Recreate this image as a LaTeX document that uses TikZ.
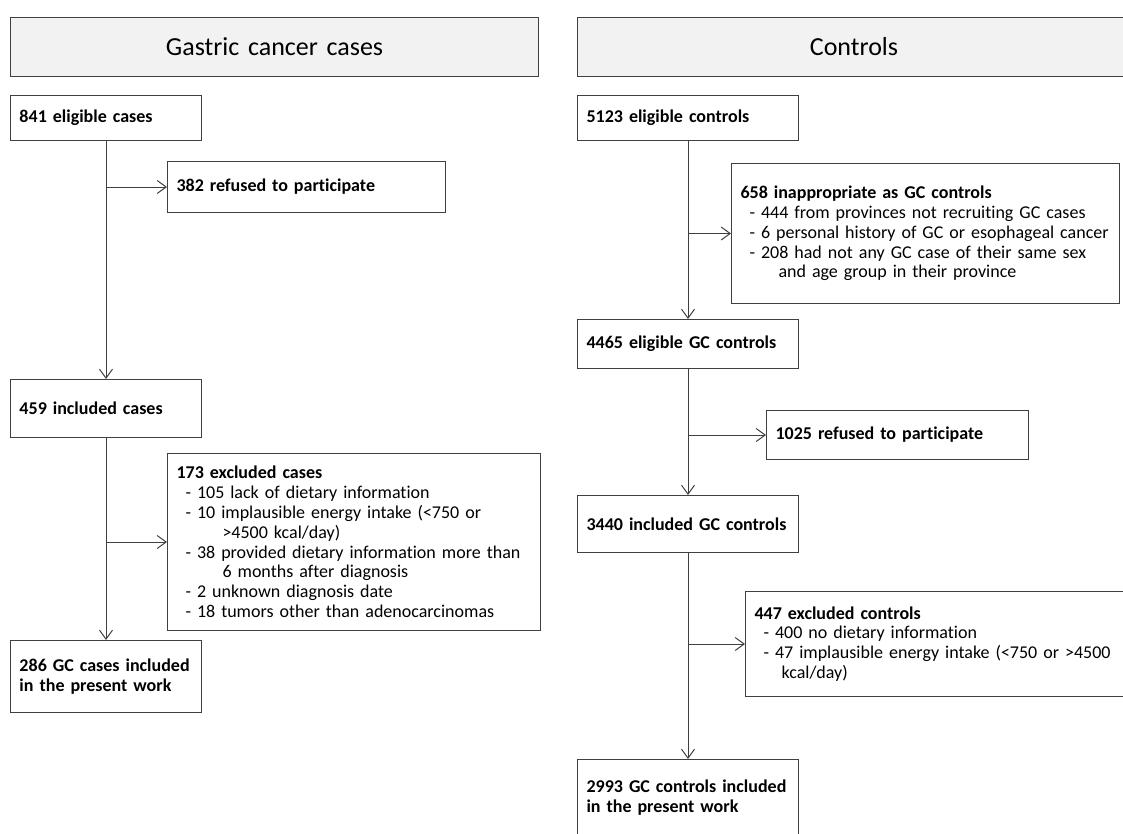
\documentclass[tikz,border=0pt]{standalone}
\usepackage{fontspec}
\setmainfont{Carlito}[Ligatures=NoCommon]
\usepackage{tikz}
\usetikzlibrary{arrows.meta}
\definecolor{edgegray}{HTML}{404040}
\definecolor{headfill}{HTML}{F2F2F2}

\begin{document}
\begin{tikzpicture}[x=1pt, y=-1pt,
    box/.style={draw=edgegray, line width=1pt, anchor=north west, align=left,
        inner xsep=9pt, inner ysep=0pt, font=\fontsize{18}{19.8}\selectfont},
    head/.style={box, fill=headfill, align=center, font=\fontsize{26}{30}\selectfont},
    arr/.style={draw=edgegray, line width=1pt, -{Straight Barb[length=9pt,width=13pt]}}]
    \useasboundingbox (0,0) rectangle (1123,833);
    \clip (0,0) rectangle (1123,833);

    \node[head, text width=510pt, minimum height=59pt] (headcases) at (10,17) {Gastric cancer cases};
    \node[head, text width=535pt, minimum height=59pt] (headctrl) at (577,17) {Controls};

    \node[box, text width=173pt, minimum height=45pt] (elig841) at (10,95) {\textbf{841 eligible cases}};
    \node[box, text width=260pt, minimum height=51pt] (refu382) at (167,161) {\textbf{382 refused to participate}};
    \node[box, text width=173pt, minimum height=58pt] (incl459) at (10,379) {\textbf{459 included cases}};
    \node[box, text width=355pt, minimum height=177pt] (excl173) at (167,453) {\textbf{173 excluded cases}\\
        \mbox{\hspace*{9pt}- 105 lack of dietary information}\\
        \mbox{\hspace*{9pt}- 10 implausible energy intake (<750 or}\\
        \mbox{\hspace*{46pt}>4500 kcal/day)}\\
        \mbox{\hspace*{9pt}- 38 provided dietary information more than}\\
        \mbox{\hspace*{46pt}6 months after diagnosis}\\
        \mbox{\hspace*{9pt}- 2 unknown diagnosis date}\\
        \mbox{\hspace*{9pt}- 18 tumors other than adenocarcinomas}};
    \node[box, text width=173pt, minimum height=72pt] (final286) at (10,640) {\mbox{\textbf{286 GC cases included}}\\\textbf{in the present work}};

    \node[box, text width=203pt, minimum height=45pt] (elig5123) at (577,95) {\textbf{5123 eligible controls}};
    \node[box, text width=370pt, minimum height=140pt] (inap658) at (731,163) {\textbf{658 inappropriate as GC controls}\\
        \mbox{\hspace*{9pt}- 444 from provinces not recruiting GC cases}\\
        \mbox{\hspace*{9pt}- 6 personal history of GC or esophageal cancer}\\
        \mbox{\hspace*{9pt}- 208 had not any GC case of their same sex}\\
        \mbox{\hspace*{38pt}and age group in their province}};
    \node[box, text width=203pt, minimum height=49pt] (elig4465) at (577,319) {\mbox{\textbf{4465 eligible GC controls}}};
    \node[box, text width=244pt, minimum height=49pt] (refu1025) at (766,410) {\textbf{1025 refused to participate}};
    \node[box, text width=203pt, minimum height=57pt] (incl3440) at (577,495) {\mbox{\textbf{3440 included GC controls}}};
    \node[box, text width=372pt, minimum height=105pt] (excl447) at (745,591) {\textbf{447 excluded controls}\\
        \mbox{\hspace*{9pt}- 400 no dietary information}\\
        \mbox{\hspace*{9pt}- 47 implausible energy intake (<750 or >4500}\\
        \mbox{\hspace*{27pt}kcal/day)}};
    \node[box, text width=203pt, minimum height=76pt] (final2993) at (577,759) {\mbox{\textbf{2993 GC controls included}}\\\textbf{in the present work}};

    \draw[arr] (elig841) -- (incl459);
    \draw[arr] (elig841 |- refu382.west) -- (refu382.west);
    \draw[arr] (incl459) -- (final286);
    \draw[arr] (incl459 |- excl173.west) -- (excl173.west);

    \draw[arr] (elig5123) -- (elig4465);
    \draw[arr] (elig5123 |- inap658.west) -- (inap658.west);
    \draw[arr] (elig4465) -- (incl3440);
    \draw[arr] (elig4465 |- refu1025.west) -- (refu1025.west);
    \draw[arr] (incl3440) -- (final2993);
    \draw[arr] (incl3440 |- excl447.west) -- (excl447.west);
\end{tikzpicture}
\end{document}
